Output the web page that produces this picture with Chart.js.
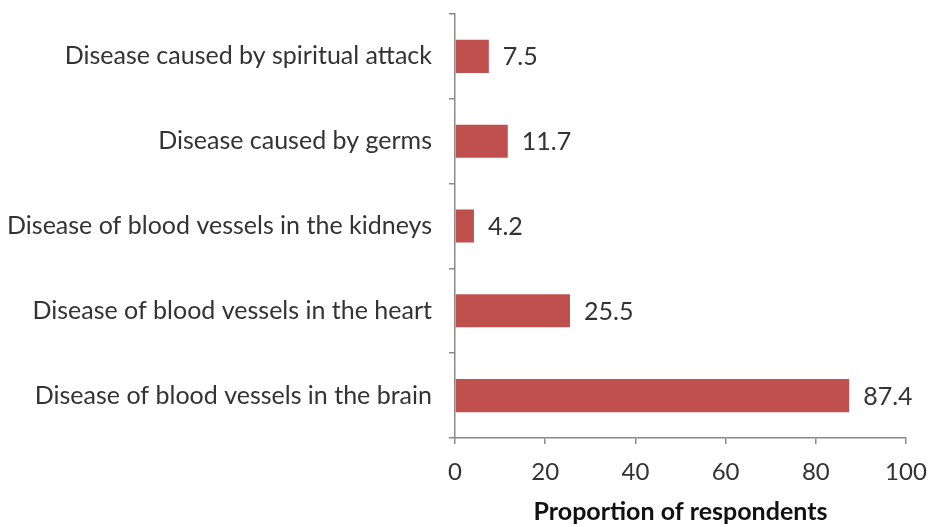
<!DOCTYPE html>
<html><head><meta charset="utf-8">
<script src="https://cdn.jsdelivr.net/npm/chart.js@4/dist/chart.umd.min.js"></script>
<style>html,body{margin:0;padding:0;background:#fff;}canvas{display:block;}</style>
</head><body>
<canvas id="c" width="932" height="527"></canvas>
<script>
const categories = [
  "Disease caused by spiritual attack",
  "Disease caused by germs",
  "Disease of blood vessels in the kidneys",
  "Disease of blood vessels in the heart",
  "Disease of blood vessels in the brain"
];
const values = [7.5, 11.7, 4.2, 25.5, 87.4];
const valueLabels = ["7.5", "11.7", "4.2", "25.5", "87.4"];
const xTicks = [0, 20, 40, 60, 80, 100];
const xTitle = "Proportion of respondents";

const FONT = "Lato, 'Open Sans', sans-serif";

const dataLabels = {
  id: 'dataLabels',
  afterDatasetsDraw(chart) {
    const ctx = chart.ctx;
    const meta = chart.getDatasetMeta(0);
    ctx.save();
    ctx.font = "25px " + FONT;
    ctx.fillStyle = "#333333";
    ctx.textAlign = "left";
    ctx.textBaseline = "middle";
    meta.data.forEach((bar, i) => {
      ctx.fillText(valueLabels[i], bar.x + 14, bar.y + 1);
    });
    ctx.restore();
  }
};

new Chart(document.getElementById('c'), {
  type: 'bar',
  data: {
    labels: categories,
    datasets: [{
      data: values,
      backgroundColor: '#C0504D',
      borderWidth: 0,
      categoryPercentage: 1.0,
      barPercentage: 0.39
    }]
  },
  options: {
    indexAxis: 'y',
    responsive: false,
    animation: false,
    devicePixelRatio: 1,
    layout: { padding: { left: 0, right: 26, top: 14, bottom: 0 } },
    plugins: { legend: { display: false }, tooltip: { enabled: false } },
    scales: {
      y: {
        afterFit(s) { s.width = 455; s.paddingTop = 0; s.paddingBottom = 0; },
        border: { color: '#8a8a8a', width: 1.5 },
        grid: { display: true, drawOnChartArea: false, drawTicks: true, tickLength: 6, color: '#8a8a8a', lineWidth: 1.5, offset: true },
        ticks: { color: '#333333', font: { family: FONT, size: 25 }, padding: 17 }
      },
      x: {
        min: 0, max: 100,
        afterFit(s) { s.height = 527 - 438; s.paddingLeft = 0; s.paddingRight = 0; },
        afterBuildTicks(s) { s.ticks = xTicks.map(v => ({ value: v })); },
        border: { color: '#8a8a8a', width: 1.5 },
        grid: { display: true, drawOnChartArea: false, drawTicks: true, tickLength: 6, color: '#8a8a8a', lineWidth: 1.5 },
        ticks: { color: '#333333', font: { family: FONT, size: 24 }, padding: 14 },
        title: { display: true, text: xTitle, color: '#111111', font: { family: FONT, size: 25, weight: 'bold' }, padding: { top: 8, bottom: 0 } }
      }
    }
  },
  plugins: [dataLabels]
});
</script>
</body></html>
